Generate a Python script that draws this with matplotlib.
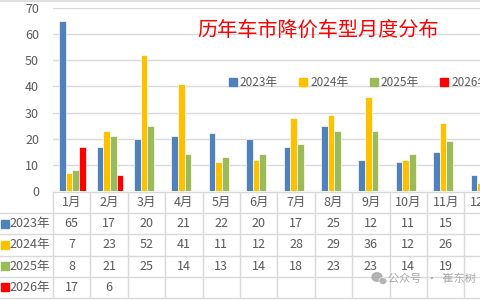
import numpy as np
import matplotlib.pyplot as plt
from matplotlib.lines import Line2D
from matplotlib.patches import Ellipse

plt.rcParams['font.family'] = ['Noto Sans CJK SC', 'DejaVu Sans']

months = ['1月', '2月', '3月', '4月', '5月', '6月', '7月', '8月', '9月', '10月', '11月', '12月']
years = ['2023年', '2024年', '2025年', '2026年']
v2023 = [65, 17, 20, 21, 22, 20, 17, 25, 12, 11, 15, 6]
v2024 = [7, 23, 52, 41, 11, 12, 28, 29, 36, 12, 26, 3]
v2025 = [8, 21, 25, 14, 13, 14, 18, 23, 23, 14, 19, None]
v2026 = [17, 6, None, None, None, None, None, None, None, None, None, None]
series = [v2023, v2024, v2025, v2026]
colors = ['#4F81BD', '#FFC000', '#9BBB59', '#FF0000']
title = '历年车市降价车型月度分布'
grey = '#595959'
gridc = '#D9D9D9'

fig = plt.figure(figsize=(4.8, 3.0), dpi=100)
W, H = 480.0, 300.0
colw = 37.4
x0 = 53.0
ax = fig.add_axes([x0 / W, 1 - 191 / H, 12 * colw / W, 183 / H])
x = np.arange(len(months))
pitch = 0.178
for k, (vals, c) in enumerate(zip(series, colors)):
    v = np.array([np.nan if a is None else a for a in vals], dtype=float)
    ax.bar(x + (k - 1.5) * pitch + 0.02, v, width=pitch, color=c, edgecolor='white',
           linewidth=0.5, label=years[k], zorder=3)
ax.set_xlim(-0.5, 11.5)
ax.set_ylim(0, 70)
ax.set_yticks(range(0, 71, 10))
ax.set_xticks([])
ax.yaxis.grid(True, color=gridc, linewidth=1.0, zorder=0)
ax.tick_params(axis='y', length=0, pad=10, labelsize=9, labelcolor=grey)
for s in ax.spines.values():
    s.set_visible(False)

fig.text(318 / W, 1 - 30 / H, title, color='#FF0000', fontsize=14.5,
         ha='center', va='center')

handles = [Line2D([], [], marker='s', linestyle='none', markersize=5.5,
                  markerfacecolor=c, markeredgecolor=c) for c in colors]
fig.legend(handles, years, loc='center left', bbox_to_anchor=(229 / W, 1 - 83 / H),
           ncol=4, frameon=False, fontsize=8.5, labelcolor=grey,
           handlelength=0.6, handletextpad=0.3, columnspacing=1.85,
           borderaxespad=0, borderpad=0)

# data table below the chart
tb = fig.add_axes([x0 / W, 1 - 298 / H, 12 * colw / W, 106 / H])
tb.set_xlim(-0.5, 11.5)
tb.set_ylim(0, 5)
tb.axis('off')
xl = -0.5 - x0 / colw
for r in range(6):
    tb.plot([xl if r <= 4 else -0.5, 11.5], [r, r], color=gridc, lw=1.0, clip_on=False)
for cpos in np.arange(-0.5, 12.0, 1.0):
    tb.plot([cpos, cpos], [0, 5], color=gridc, lw=1.0, clip_on=False)
for i, m in enumerate(months):
    tb.text(i, 4.5, m, ha='center', va='center', fontsize=9, color=grey)
for k, vals in enumerate(series):
    yrow = 3.5 - k
    tb.plot([xl + 5 / colw], [yrow], marker='s', markersize=5.5, color=colors[k], clip_on=False)
    tb.text(xl + 9 / colw, yrow, years[k], ha='left', va='center', fontsize=9,
            color=grey, clip_on=False)
    for i, a in enumerate(vals):
        if a is not None:
            tb.text(i, yrow, str(a), ha='center', va='center', fontsize=9, color=grey)

fig.add_artist(Line2D([0, 1], [1 - 1 / H, 1 - 1 / H], color=gridc, lw=1.2))

# watermark
wm = '#A8A8A8'
fig.add_artist(Ellipse((377 / W, 1 - 277 / H), 10 / W, 8.5 / H, color=wm, alpha=0.85))
fig.add_artist(Ellipse((383 / W, 1 - 281 / H), 8 / W, 7 / H, color=wm, alpha=0.85,
                       ec='white', lw=0.6))
fig.text(388 / W, 1 - 279 / H, '公众号  ·  崔东树', color=wm,
         fontsize=8, ha='left', va='center')

fig.savefig('out.png', dpi=100)
